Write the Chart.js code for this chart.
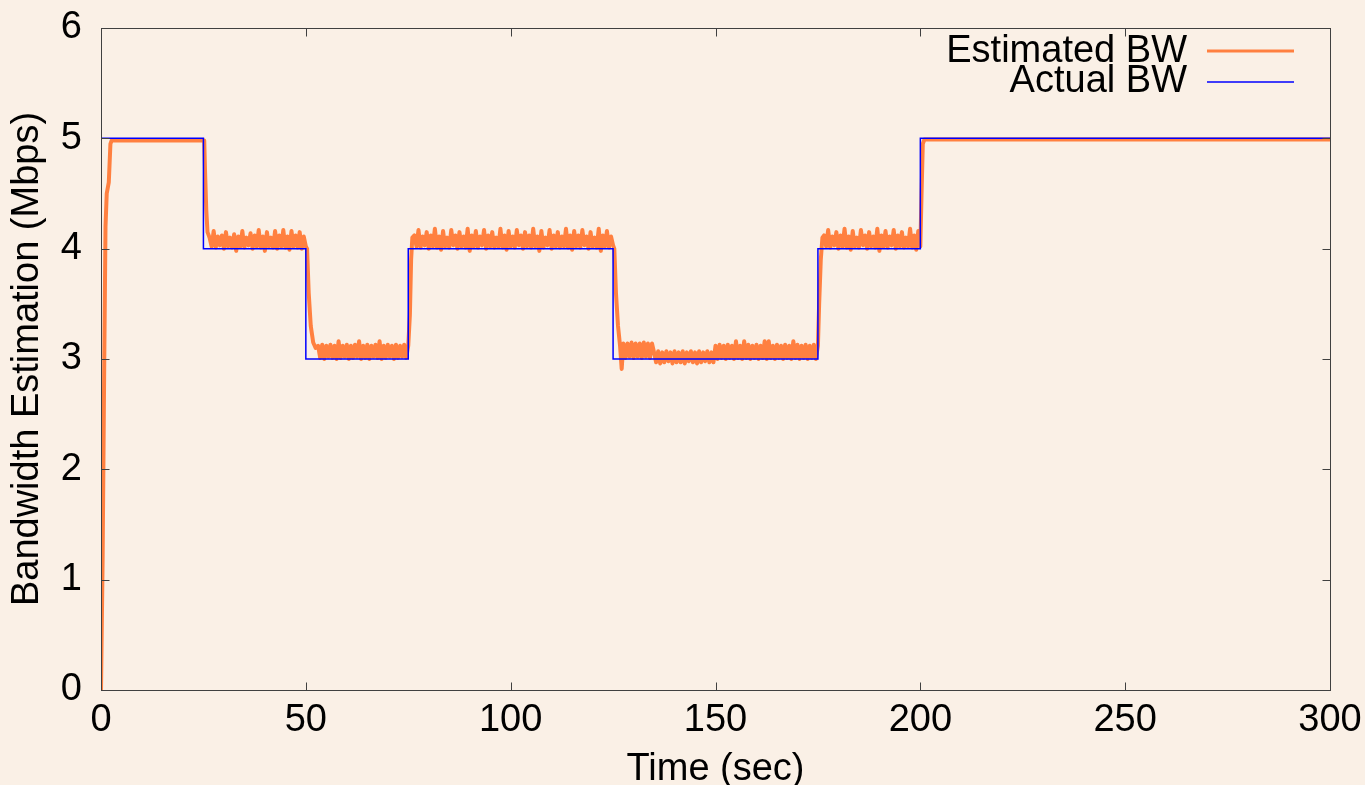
<!DOCTYPE html>
<html>
<head>
<meta charset="utf-8">
<title>Bandwidth Estimation</title>
<script src="https://cdn.jsdelivr.net/npm/chart.js@4.4.1/dist/chart.umd.min.js"></script>
<style>
  html, body { margin: 0; padding: 0; background: #faf0e6; }
  #wrap { width: 1365px; height: 785px; }
</style>
</head>
<body>
<div id="wrap"><canvas id="chart" width="1365" height="785"></canvas></div>
<script>
// Actual link bandwidth (Mbps), a new level starts at each time (sec)
const actualTime = [0, 25, 50, 75, 125, 175, 200, 300];
const actualBW   = [5, 4, 3, 4, 3, 4, 5, 5];

// Estimate around the ramps / level changes (time, Mbps)
const edgeTime = [0, 0.4, 0.8, 1.1, 1.4, 1.9, 2.3, 2.6, 25.2, 25.4, 25.7, 26.0,
                  50.3, 50.7, 51.2, 51.8, 52.4, 75.4, 75.7, 76.0,
                  125.3, 125.7, 126.2, 126.7, 127.1, 175.3, 175.7, 176.1,
                  200.3, 200.6, 201.0, 300];
const edgeBW   = [0, 1.2, 3.0, 4.2, 4.5, 4.6, 4.95, 4.98, 4.98, 4.7, 4.35, 4.15,
                  4.0, 3.6, 3.3, 3.15, 3.1, 3.4, 3.9, 4.1,
                  4.0, 3.6, 3.3, 3.12, 2.91, 3.5, 3.9, 4.1,
                  4.5, 4.95, 4.99, 4.99];

// Estimate on the plateaus, one sample every 0.5 s from the start time
const plateauStep = 0.5;
const plateauStart = [26.5, 53, 76.5, 127.5, 176.5];

const plateau1 = [
  4.10, 4.02, 4.16, 4.01, 4.11, 4.03, 4.12, 4.00,
  4.15, 4.02, 4.10, 4.01, 4.13, 3.98, 4.11, 4.02,
  4.16, 4.01, 4.10, 4.03, 4.14, 4.00, 4.12, 4.02,
  4.17, 4.01, 4.11, 3.98, 4.15, 4.02, 4.10, 4.01,
  4.16, 4.00, 4.12, 4.02, 4.17, 4.01, 4.11, 3.99,
  4.16, 4.02, 4.12, 4.01, 4.15, 4.00, 4.11, 4.02
];
const plateau2 = [
  3.12, 3.01, 3.13, 3.00, 3.12, 3.02, 3.13, 3.01,
  3.12, 3.00, 3.16, 3.01, 3.12, 3.02, 3.13, 3.00,
  3.12, 3.01, 3.13, 3.02, 3.16, 3.00, 3.12, 3.01,
  3.13, 3.00, 3.12, 3.02, 3.13, 3.01, 3.16, 3.00,
  3.12, 3.01, 3.13, 3.02, 3.12, 3.00, 3.13, 3.01,
  3.12, 3.02, 3.13, 3.01, 3.12
];
const plateau3 = [
  4.12, 4.02, 4.17, 4.01, 4.11, 4.03, 4.15, 4.00,
  4.12, 4.02, 4.18, 4.01, 4.11, 3.99, 4.16, 4.02,
  4.10, 4.01, 4.17, 4.03, 4.12, 4.00, 4.15, 4.02,
  4.11, 4.01, 4.18, 3.98, 4.12, 4.02, 4.16, 4.01,
  4.11, 4.03, 4.17, 4.00, 4.12, 4.02, 4.15, 4.01,
  4.10, 4.02, 4.18, 4.01, 4.12, 3.99, 4.16, 4.02,
  4.11, 4.01, 4.17, 4.03, 4.12, 4.00, 4.15, 4.02,
  4.12, 4.01, 4.18, 4.02, 4.11, 3.98, 4.16, 4.01,
  4.10, 4.03, 4.17, 4.00, 4.12, 4.02, 4.15, 4.01,
  4.11, 4.02, 4.18, 4.01, 4.12, 3.99, 4.16, 4.02,
  4.12, 4.01, 4.17, 4.03, 4.11, 4.00, 4.15, 4.02,
  4.10, 4.01, 4.18, 3.98, 4.12, 4.02, 4.16, 4.01,
  4.11, 4.03
];
const plateau4 = [
  // 127.5 - 134.5
  3.14, 3.01, 3.14, 3.02, 3.15, 3.01, 3.14, 3.02,
  3.14, 3.01, 3.15, 3.02, 3.14, 3.01, 3.14,
  // 135 - 149.5
  3.06, 2.97, 3.07, 2.96, 3.06, 2.97, 3.07, 2.98, 3.06, 2.96,
  3.07, 2.97, 3.06, 2.97, 3.07, 2.96, 3.06, 2.98, 3.07, 2.97,
  3.06, 2.96, 3.07, 2.97, 3.06, 2.98, 3.07, 2.97, 3.06, 2.97,
  // 150 - 175
  3.12, 3.00, 3.13, 3.01, 3.12, 3.00, 3.13, 3.01, 3.12, 3.00,
  3.16, 3.01, 3.12, 3.00, 3.16, 3.01, 3.13, 3.00, 3.12, 3.01,
  3.13, 3.00, 3.12, 3.01, 3.16, 3.00, 3.16, 3.01, 3.12, 3.00,
  3.13, 3.01, 3.12, 3.00, 3.13, 3.01, 3.12, 3.00, 3.16, 3.01,
  3.13, 3.00, 3.12, 3.01, 3.13, 3.00, 3.12, 3.01, 3.13, 3.00, 3.12
];
const plateau5 = [
  4.12, 4.02, 4.17, 4.01, 4.11, 4.03, 4.15, 4.00,
  4.12, 4.02, 4.18, 4.01, 4.11, 3.99, 4.16, 4.02,
  4.10, 4.01, 4.17, 4.03, 4.12, 4.00, 4.15, 4.02,
  4.11, 4.01, 4.18, 3.98, 4.12, 4.02, 4.16, 4.01,
  4.11, 4.03, 4.17, 4.00, 4.12, 4.02, 4.15, 4.01,
  4.10, 4.02, 4.18, 4.01, 4.12, 3.99, 4.16, 4.02
];
const plateaus = [plateau1, plateau2, plateau3, plateau4, plateau5];

const xTicks = [0, 50, 100, 150, 200, 250, 300];
const yTicks = [0, 1, 2, 3, 4, 5, 6];

const ORANGE = '#ff8040';
const BLUE = '#0000ff';
const FONT = '"Liberation Sans", Arial, Helvetica, sans-serif';

// merge ramp points and plateau samples into one time-ordered series
const estPoints = edgeTime.map((t, i) => ({ x: t, y: edgeBW[i] }));
plateaus.forEach((vals, p) => {
  vals.forEach((v, i) => estPoints.push({ x: plateauStart[p] + i * plateauStep, y: v }));
});
estPoints.sort((a, b) => a.x - b.x);

const actualPoints = actualTime.map((t, i) => ({ x: t, y: actualBW[i] }));

// gnuplot-style box with inward ticks on all four sides
const frameTicks = {
  id: 'frameTicks',
  afterDatasetsDraw(chart) {
    const { ctx, chartArea: a, scales } = chart;
    const L = Math.floor(a.left) + 0.5, R = Math.floor(a.right) + 0.5;
    const T = Math.floor(a.top) + 0.5, B = Math.floor(a.bottom) + 0.5;
    const len = 8;
    ctx.save();
    ctx.strokeStyle = '#404040';
    ctx.lineWidth = 1;
    ctx.beginPath();
    xTicks.forEach(v => {
      const px = Math.round(scales.x.getPixelForValue(v)) + 0.5;
      ctx.moveTo(px, B); ctx.lineTo(px, B - len);
      ctx.moveTo(px, T); ctx.lineTo(px, T + len);
    });
    yTicks.forEach(v => {
      const py = Math.round(scales.y.getPixelForValue(v)) + 0.5;
      ctx.moveTo(L, py); ctx.lineTo(L + len, py);
      ctx.moveTo(R, py); ctx.lineTo(R - len, py);
    });
    ctx.stroke();
    ctx.strokeRect(L, T, R - L, B - T);
    ctx.restore();
  }
};

// key in the top right corner: label right-aligned, line sample after it
const keyBox = {
  id: 'keyBox',
  afterDraw(chart) {
    const { ctx, chartArea: a } = chart;
    const rows = [
      { label: 'Estimated BW', color: ORANGE, width: 3, ty: 24, ly: 23 },
      { label: 'Actual BW', color: BLUE, width: 1.5, ty: 54, ly: 54 }
    ];
    ctx.save();
    ctx.font = '38px ' + FONT;
    ctx.textAlign = 'right';
    ctx.textBaseline = 'middle';
    rows.forEach(r => {
      ctx.fillStyle = '#000';
      ctx.fillText(r.label, a.right - 143, a.top + r.ty);
      ctx.strokeStyle = r.color;
      ctx.lineWidth = r.width;
      ctx.beginPath();
      ctx.moveTo(a.right - 123, a.top + r.ly);
      ctx.lineTo(a.right - 36, a.top + r.ly);
      ctx.stroke();
    });
    ctx.restore();
  }
};

new Chart(document.getElementById('chart'), {
  type: 'line',
  data: {
    datasets: [
      {
        label: 'Actual BW',
        data: actualPoints,
        borderColor: BLUE,
        borderWidth: 1.5,
        stepped: 'before',
        pointRadius: 0,
        order: 0
      },
      {
        label: 'Estimated BW',
        data: estPoints,
        borderColor: ORANGE,
        borderWidth: 4,
        borderJoinStyle: 'round',
        pointRadius: 0,
        tension: 0,
        order: 1
      }
    ]
  },
  options: {
    responsive: false,
    animation: false,
    events: [],
    layout: { padding: { top: 28, right: 35, left: 0, bottom: 0 } },
    plugins: { legend: { display: false }, tooltip: { enabled: false } },
    scales: {
      x: {
        type: 'linear',
        min: 0,
        max: 300,
        afterBuildTicks: s => { s.ticks = xTicks.map(v => ({ value: v })); },
        grid: { display: false, drawTicks: false },
        border: { display: false },
        ticks: { color: '#000', font: { family: FONT, size: 38 }, padding: 8, maxRotation: 0 },
        title: {
          display: true,
          text: 'Time (sec)',
          color: '#000',
          font: { family: FONT, size: 38, lineHeight: 0.84 },
          padding: 0
        },
        // fixed axis box; label overhang is already covered by layout padding
        afterFit: s => {
          s.height = 95;
          s.paddingLeft = 0;
          s.paddingRight = 0;
        }
      },
      y: {
        min: 0,
        max: 6,
        afterBuildTicks: s => { s.ticks = yTicks.map(v => ({ value: v })); },
        grid: { display: false, drawTicks: false },
        border: { display: false },
        ticks: { color: '#000', font: { family: FONT, size: 38 }, padding: 19 },
        title: {
          display: true,
          text: 'Bandwidth Estimation (Mbps)',
          color: '#000',
          font: { family: FONT, size: 38, lineHeight: 1 },
          padding: { top: 9, bottom: 0 }
        },
        afterFit: s => {
          s.width = 101;
          s.paddingTop = 0;
          s.paddingBottom = 0;
        }
      }
    }
  },
  plugins: [frameTicks, keyBox]
});
</script>
</body>
</html>
